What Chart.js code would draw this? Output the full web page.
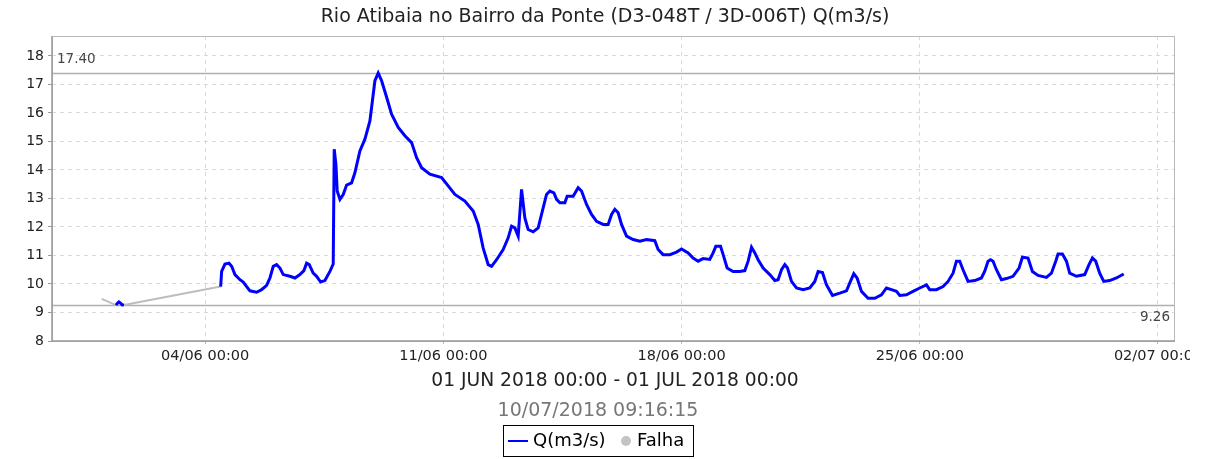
<!DOCTYPE html>
<html><head><meta charset="utf-8">
<script src="https://cdn.jsdelivr.net/npm/chart.js@4/dist/chart.umd.min.js"></script>
<style>html,body{margin:0;padding:0;background:#fff}#wrap{width:1216px;height:459px}</style>
</head><body><div id="wrap"><canvas id="c" width="1216" height="459"></canvas></div>
<script>
// Day numbers: 1 = 01/06/2018 00:00, 32 = 02/07/2018 00:00
const qDays = [1.380,1.42,1.468,1.52,1.56,1.615,3.0,
4.456,4.485,4.582,4.700,4.779,4.876,5.023,5.120,5.220,5.317,5.513,5.660,5.807,5.904,6.001,6.101,6.198,6.295,6.492,6.639,6.786,6.903,6.982,7.059,7.176,7.276,7.394,7.520,7.667,7.764,
7.793,7.843,7.881,7.961,8.058,8.157,8.304,8.401,8.548,8.695,8.842,8.989,9.086,9.186,9.333,9.479,9.674,9.870,10.067,10.214,10.361,10.605,10.948,11.142,11.339,11.633,11.877,12.024,12.171,12.318,12.417,12.564,12.758,12.905,13.005,13.102,13.199,13.298,13.395,13.492,13.639,13.786,13.933,14.032,14.130,14.248,14.327,14.424,14.571,14.638,14.814,14.961,15.061,15.208,15.355,15.502,15.696,15.843,15.943,16.040,16.137,16.236,16.383,16.577,16.774,16.971,17.214,17.311,17.459,17.655,17.852,17.999,18.193,18.340,18.486,18.633,18.830,18.927,19.007,19.145,19.222,19.339,19.515,19.712,19.859,19.956,20.056,20.153,20.250,20.397,20.593,20.740,20.837,20.937,21.034,21.113,21.230,21.377,21.571,21.768,21.915,22.012,22.141,22.259,22.435,22.649,22.846,22.963,23.061,23.158,23.287,23.481,23.677,23.874,24.021,24.168,24.315,24.412,24.609,24.803,24.999,25.196,25.293,25.490,25.684,25.831,25.978,26.077,26.174,26.271,26.418,26.615,26.812,26.909,27.006,27.080,27.153,27.253,27.399,27.546,27.740,27.917,28.016,28.181,28.310,28.475,28.722,28.869,28.995,29.063,29.192,29.310,29.406,29.603,29.847,29.973,30.073,30.170,30.287,30.405,30.582,30.778,30.993];
const qValues = [9.26,9.32,9.37,9.32,9.27,9.26,null,
9.91,10.44,10.70,10.73,10.62,10.33,10.15,10.07,9.91,9.76,9.71,9.80,9.95,10.21,10.62,10.68,10.56,10.33,10.27,10.21,10.33,10.47,10.73,10.68,10.38,10.27,10.07,10.12,10.44,10.70,
14.73,14.20,13.26,12.97,13.14,13.47,13.55,13.90,14.67,15.08,15.72,17.13,17.40,17.13,16.55,15.96,15.49,15.20,14.96,14.43,14.08,13.85,13.73,13.44,13.14,12.91,12.56,12.09,11.26,10.68,10.62,10.85,11.21,11.62,12.03,11.97,11.68,13.32,12.32,11.91,11.83,11.97,12.67,13.14,13.26,13.20,12.97,12.85,12.85,13.08,13.08,13.38,13.26,12.79,12.44,12.20,12.09,12.09,12.44,12.62,12.50,12.09,11.68,11.56,11.50,11.56,11.52,11.21,11.03,11.03,11.12,11.23,11.09,10.91,10.80,10.89,10.86,11.09,11.32,11.32,11.03,10.56,10.44,10.44,10.47,10.80,11.29,11.09,10.85,10.56,10.33,10.12,10.15,10.50,10.68,10.56,10.09,9.86,9.80,9.86,10.09,10.44,10.40,9.97,9.60,9.68,9.76,10.09,10.36,10.21,9.74,9.50,9.50,9.62,9.86,9.80,9.74,9.60,9.62,9.74,9.86,9.97,9.80,9.80,9.91,10.09,10.38,10.80,10.80,10.50,10.09,10.12,10.21,10.45,10.80,10.85,10.80,10.50,10.15,10.19,10.27,10.56,10.94,10.91,10.44,10.30,10.23,10.38,10.80,11.05,11.05,10.80,10.38,10.27,10.33,10.68,10.91,10.80,10.38,10.09,10.12,10.21,10.35];
const falhaDays = [0.96,1.38,1.5,1.615,4.456];
const falhaValues = [9.48,9.26,null,9.26,9.91];
const xTickDays = [4,11,18,25,32];
const xTickLabels = ['04/06 00:00','11/06 00:00','18/06 00:00','25/06 00:00','02/07 00:00'];
const yTicks = [8,9,10,11,12,13,14,15,16,17,18];
const maxValue = 17.40, minValue = 9.26;
const titleText = 'Rio Atibaia no Bairro da Ponte (D3-048T / 3D-006T) Q(m3/s)';
const periodText = '01 JUN 2018 00:00 - 01 JUL 2018 00:00';
const stampText = '10/07/2018 09:16:15';
const seriesNames = ['Q(m3/s)','Falha'];

const FONT = '"DejaVu Sans", sans-serif';
const qData = qDays.map((d,i)=>({x:d,y:qValues[i]}));
const fData = falhaDays.map((d,i)=>({x:d,y:falhaValues[i]}));

const deco = {
  id:'deco',
  beforeDraw(chart){ const c=chart.ctx; c.save(); c.beginPath(); c.rect(0,0,1190,459); c.clip(); },
  beforeDatasetsDraw(chart){
    const c=chart.ctx, a=chart.chartArea, y=chart.scales.y;
    c.save();
    c.strokeStyle='#b0b0b0'; c.lineWidth=1.5;
    [maxValue,minValue].forEach(v=>{const py=Math.round(y.getPixelForValue(v))+0.5; c.beginPath(); c.moveTo(a.left,py); c.lineTo(a.right,py); c.stroke();});
    c.font='13.5px '+FONT; c.fillStyle='#444';
    c.textBaseline='middle'; c.textAlign='left';
    c.fillText(maxValue.toFixed(2), a.left+5, y.getPixelForValue(maxValue)-14);
    c.textAlign='right';
    c.fillText(minValue.toFixed(2), a.right-5, y.getPixelForValue(minValue)+12);
    c.restore();
  },
  afterDraw(chart){
    const c=chart.ctx, a=chart.chartArea;
    c.save();
    // frame
    c.strokeStyle='#bbbbbb'; c.lineWidth=1;
    c.strokeRect(a.left+0.5,a.top+0.5,a.right-a.left-1,a.bottom-a.top);
    c.strokeStyle='#999'; c.lineWidth=1.5;
    c.beginPath(); c.moveTo(a.left,a.top); c.lineTo(a.left,a.bottom); c.lineTo(a.right,a.bottom); c.stroke();
    // title
    c.textAlign='center'; c.textBaseline='middle';
    c.font='19px '+FONT; c.fillStyle='#222';
    c.fillText(titleText, 605, 17);
    c.font='18.7px '+FONT; c.fillStyle='#222';
    c.fillText(periodText, 615, 381);
    c.font='19px '+FONT; c.fillStyle='#777';
    c.fillText(stampText, 598, 411);
    // legend
    c.strokeStyle='#000'; c.lineWidth=1;
    c.strokeRect(503.5,425.5,190,31);
    c.strokeStyle='#0000ff'; c.lineWidth=2;
    c.beginPath(); c.moveTo(508,441); c.lineTo(528,441); c.stroke();
    c.textAlign='left'; c.fillStyle='#000'; c.font='18px '+FONT;
    c.fillText(seriesNames[0], 533, 441);
    c.fillStyle='#c4c4c4'; c.beginPath(); c.arc(626,441,5,0,Math.PI*2); c.fill();
    c.fillStyle='#000'; c.fillText(seriesNames[1], 637, 441);
    c.restore();
    c.restore();
  }
};

new Chart(document.getElementById('c'), {
  type:'line',
  data:{datasets:[
    {label:seriesNames[1], data:fData, borderColor:'#bdbdbd', borderWidth:2, pointRadius:0, spanGaps:false, tension:0, order:2},
    {label:seriesNames[0], data:qData, borderColor:'#0000ff', borderWidth:3, pointRadius:0, spanGaps:false, tension:0, order:1}
  ]},
  options:{
    responsive:false, animation:false, maintainAspectRatio:false,
    layout:{padding:{left:0,right:41,top:36,bottom:0}},
    plugins:{legend:{display:false}, title:{display:false}, tooltip:{enabled:false}},
    scales:{
      x:{type:'linear', min:-0.5, max:32.5,
        afterBuildTicks(s){ s.ticks = xTickDays.map(v=>({value:v})); },
        afterFit(s){ s.height = 118; },
        ticks:{autoSkip:false, maxRotation:0, padding:2, color:'#222', font:{family:FONT,size:14.5},
          callback(v){ const i=xTickDays.indexOf(v); return i>=0?xTickLabels[i]:''; }},
        grid:{color:'#d9d9d9', lineWidth:1, tickLength:5, tickColor:'#bbb', tickBorderDash:[3,3]},
        border:{display:false, dash:[4,4]}
      },
      y:{type:'linear', min:8, max:18.7,
        afterBuildTicks(s){ s.ticks = yTicks.map(v=>({value:v})); },
        afterFit(s){ s.width = 52; },
        ticks:{padding:4, color:'#222', font:{family:FONT,size:14}},
        grid:{color:'#d9d9d9', lineWidth:1, tickLength:4, tickColor:'#999'},
        border:{display:false, dash:[4,4]}
      }
    }
  },
  plugins:[deco]
});
</script></body></html>
